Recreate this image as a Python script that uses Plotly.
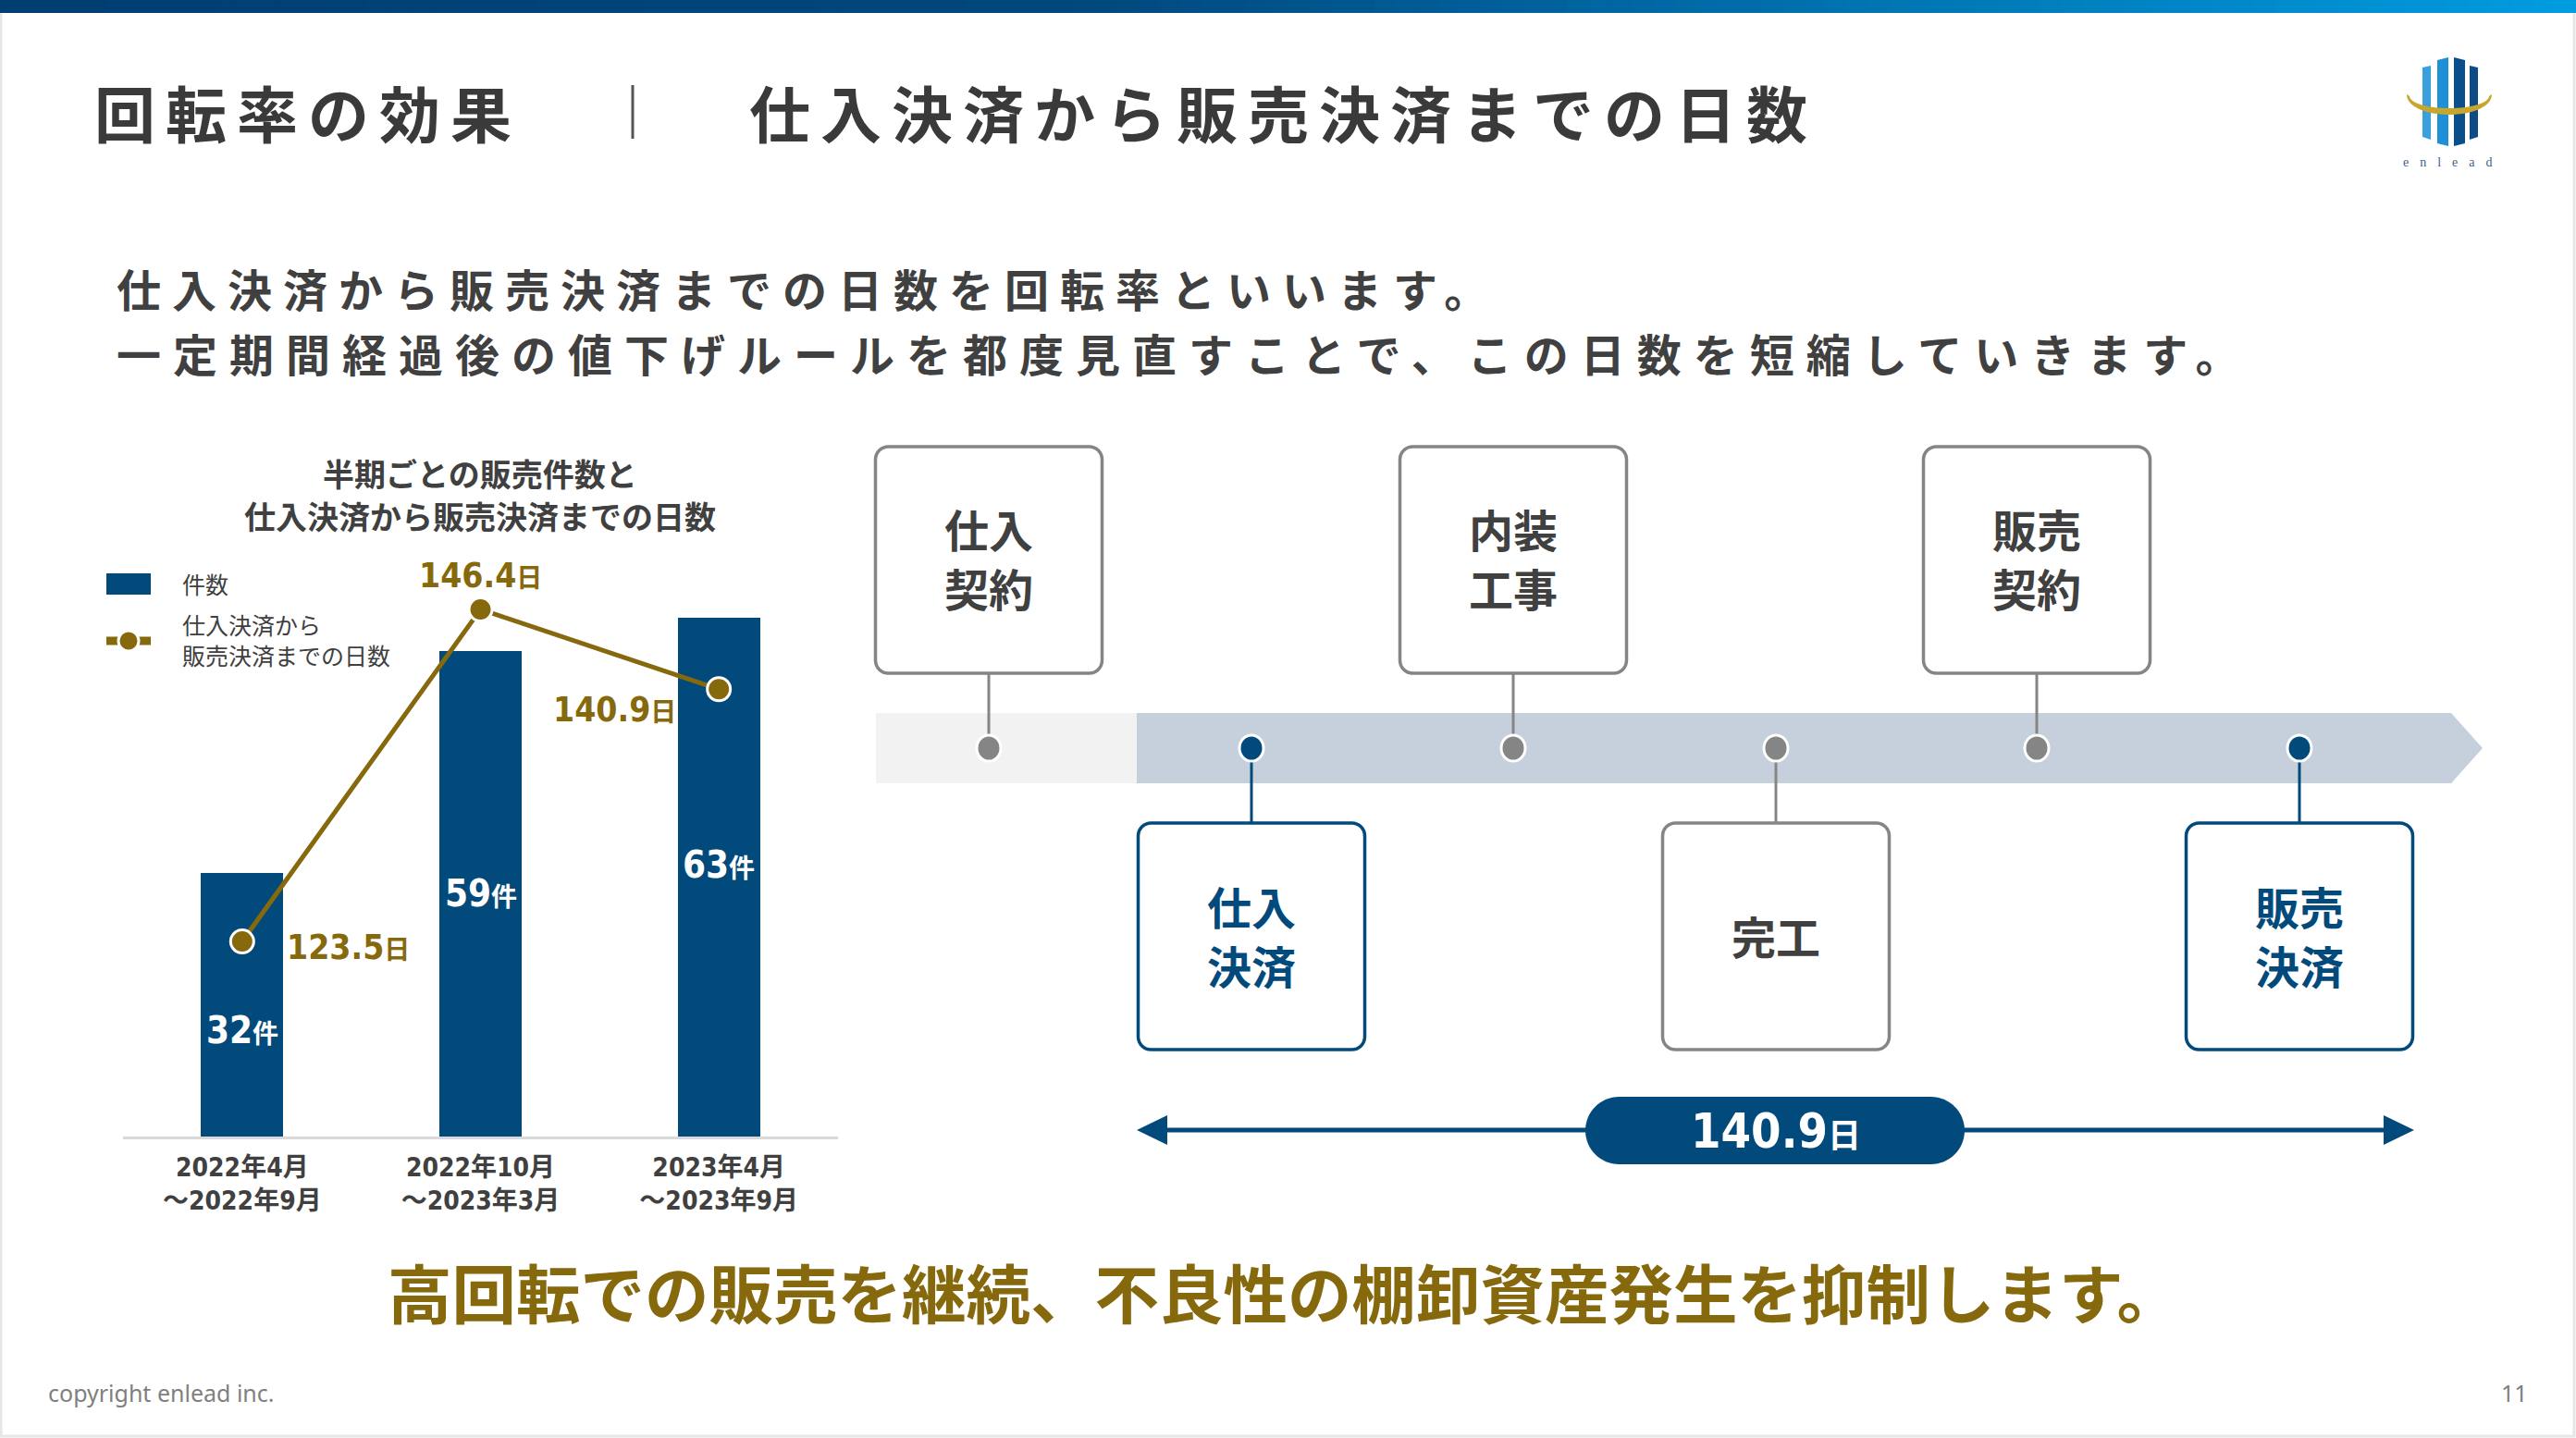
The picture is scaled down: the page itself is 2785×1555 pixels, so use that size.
import plotly.graph_objects as go

W, H = 2785, 1555

# ---------------- data ----------------
periods = ["2022年4月<br>～2022年9月", "2022年10月<br>～2023年3月", "2023年4月<br>～2023年9月"]
sales_counts = [32, 59, 63]
days_to_settle = [123.5, 146.4, 140.9]
count_unit = "件"
day_unit = "日"
legend_labels = ["件数", "仕入決済から<br>販売決済までの日数"]
chart_title = ["半期ごとの販売件数と", "仕入決済から販売決済までの日数"]
steps_top = [["仕入", "契約"], ["内装", "工事"], ["販売", "契約"]]
steps_bottom = [["仕入", "決済"], ["完工"], ["販売", "決済"]]
steps_bottom_highlight = [True, False, True]
cycle_days = 140.9
header_left = "回転率の効果"
header_right = "仕入決済から販売決済までの日数"
lead_lines = ["仕入決済から販売決済までの日数を回転率といいます。",
              "一定期間経過後の値下げルールを都度見直すことで、この日数を短縮していきます。"]
message = "高回転での販売を継続、不良性の棚卸資産発生を抑制します。"
footer_left = "copyright enlead inc."
page_no = "11"

# ---------------- styles ----------------
NAVY = "#034a7c"
GOLD = "#85690c"
TEXT = "#404040"
GRAY = "#858585"
JP = "Noto Sans CJK JP"
NUM = "Liberation Sans Narrow, DejaVu Sans Condensed, Noto Sans CJK JP"

fig = go.Figure()

# bars (count)
fig.add_bar(
    x=periods, y=sales_counts, width=0.345, marker_color=NAVY, marker_line_width=0,
    showlegend=False, hoverinfo="skip", xaxis="x", yaxis="y")

# line (days)
fig.add_scatter(
    x=periods, y=days_to_settle, mode="lines+markers", xaxis="x", yaxis="y2",
    line=dict(color=GOLD, width=5),
    marker=dict(size=25, color=GOLD, line=dict(color="white", width=3)),
    showlegend=False, hoverinfo="skip", cliponaxis=False)

# page canvas (pixel coordinates)
fig.add_scatter(x=[], y=[], xaxis="x3", yaxis="y3", showlegend=False, hoverinfo="skip")

shapes = []
annos = []


def S(**kw):
    d = dict(xref="x3", yref="y3", layer="above")
    d.update(kw)
    shapes.append(d)


def A(x, y, text, size, color=TEXT, family=JP, xanchor="center", yanchor="middle", **kw):
    d = dict(xref="x3", yref="y3", x=x, y=y, text=text, showarrow=False,
             font=dict(family=family, size=size, color=color),
             xanchor=xanchor, yanchor=yanchor)
    d.update(kw)
    annos.append(d)


def rrect(x0, y0, x1, y1, r):
    k = 0.5523 * r
    return (f"M{x0+r},{y0} L{x1-r},{y0} C{x1-r+k},{y0} {x1},{y0+r-k} {x1},{y0+r} "
            f"L{x1},{y1-r} C{x1},{y1-r+k} {x1-r+k},{y1} {x1-r},{y1} "
            f"L{x0+r},{y1} C{x0+r-k},{y1} {x0},{y1-r+k} {x0},{y1-r} "
            f"L{x0},{y0+r} C{x0},{y0+r-k} {x0+r-k},{y0} {x0+r},{y0} Z")


def spaced(t, ls):
    return f"<span style='letter-spacing:{ls}px'>{t}</span>"


# page border
S(type="rect", x0=1, y0=1, x1=W - 2, y1=H - 2, line=dict(color="#e6e6e6", width=3), layer="below")

# top gradient bar
N = 120
c0 = (0, 62, 114)
c1 = (0, 72, 126)
c2 = (0, 156, 224)
for i in range(N):
    t = i / (N - 1)
    if t < 0.42:
        u = t / 0.42
        c = [int(c0[j] + (c1[j] - c0[j]) * u) for j in range(3)]
    else:
        u = (t - 0.42) / 0.58
        c = [int(c1[j] + (c2[j] - c1[j]) * u) for j in range(3)]
    S(type="rect", x0=W * i / N, x1=W * (i + 1) / N + 1.5, y0=0, y1=14,
      fillcolor=f"rgb({c[0]},{c[1]},{c[2]})", line=dict(width=0))

# header
A(100, 120, "<b>" + spaced(header_left, 11) + "</b>", 66, color="#3a3a3a", xanchor="left")
S(type="line", x0=684, x1=684, y0=92, y1=150, line=dict(color="#555555", width=3))
A(808, 120, "<b>" + spaced(header_right, 11) + "</b>", 66, color="#3a3a3a", xanchor="left")

# logo
logo_bars = [
    ((2619, 73), (2628, 71), (2628, 151), (2619, 148), "#3aa0dc"),
    ((2635, 65), (2647, 62), (2647, 158), (2635, 155), "#1f90d6"),
    ((2653, 62), (2665, 65), (2665, 155), (2653, 158), "#0b4e8c"),
    ((2670, 71), (2679, 73), (2679, 148), (2670, 151), "#0e4c88"),
]
for p0, p1, p2, p3, col in logo_bars:
    S(type="path", path=f"M{p0[0]},{p0[1]} L{p1[0]},{p1[1]} L{p2[0]},{p2[1]} L{p3[0]},{p3[1]} Z",
      fillcolor=col, line=dict(width=0))
cx, cy, rx, ry, rx2, ry2, k = 2648, 104, 46, 20, 43, 13, 0.5523
S(type="path",
  path=(f"M{cx-rx},{cy-2} C{cx-rx},{cy+k*ry} {cx-k*rx},{cy+ry} {cx},{cy+ry} "
        f"C{cx+k*rx},{cy+ry} {cx+rx},{cy+k*ry} {cx+rx},{cy-2} "
        f"L{cx+rx2},{cy} C{cx+rx2},{cy+k*ry2} {cx+k*rx2},{cy+ry2} {cx},{cy+ry2} "
        f"C{cx-k*rx2},{cy+ry2} {cx-rx2},{cy+k*ry2} {cx-rx2},{cy} Z"),
  fillcolor="#c6a62c", line=dict(width=0))
A(2652, 175, spaced("enlead", 12), 14, color="#3d5f8a", family="Liberation Serif, DejaVu Serif")

# lead text
A(124, 311, "<b>" + spaced(lead_lines[0], 12) + "</b>", 48, xanchor="left")
A(124, 381, "<b>" + spaced(lead_lines[1], 13) + "</b>", 48, xanchor="left")

# chart title
A(519, 511, "<b>" + chart_title[0] + "</b>", 34)
A(519, 557, "<b>" + chart_title[1] + "</b>", 34)

# legend
S(type="rect", x0=115, x1=163, y0=620, y1=643, fillcolor=NAVY, line=dict(width=0))
A(195, 631, legend_labels[0], 25, xanchor="left")
S(type="line", x0=115, x1=163, y0=693, y1=693, line=dict(color=GOLD, width=9))
S(type="circle", x0=128, x1=150, y0=682, y1=704, fillcolor=GOLD, line=dict(color="white", width=3))
A(195, 691, legend_labels[1], 25, xanchor="left", align="left")

# bar value labels
bar_lab_shift = [-27, 0, 14]
for i, v in enumerate(sales_counts):
    annos.append(dict(xref="x", yref="y", x=periods[i], y=v / 2, showarrow=False,
                      text=f"<b>{v}<span style='font-size:28px'>{count_unit}</span></b>",
                      font=dict(family=NUM, size=40, color="white"),
                      xanchor="center", yanchor="middle", yshift=bar_lab_shift[i]))

# data labels for line
lab_pos = [dict(xanchor="left", xshift=46, yshift=-6),
           dict(xanchor="center", xshift=0, yshift=36),
           dict(xanchor="right", xshift=-44, yshift=-22)]
for i, v in enumerate(days_to_settle):
    annos.append(dict(xref="x", yref="y2", x=periods[i], y=v, showarrow=False,
                      text=f"<b>{v}<span style='font-size:28px'>{day_unit}</span></b>",
                      font=dict(family=NUM, size=37, color=GOLD),
                      yanchor="middle", **lab_pos[i]))

# timeline band
S(type="rect", x0=947, x1=1229, y0=771, y1=847, fillcolor="#f2f2f2", line=dict(width=0), layer="below")
S(type="path", path="M1229,771 L2650,771 L2684,809 L2650,847 L1229,847 Z",
  fillcolor="#c5d0dc", line=dict(width=0), layer="below")

dot_x = [1069, 1353, 1636, 1920, 2202, 2486]
dot_y = 809
bw = 245
line_gap = 64


def box_text(x, yc, lines, color):
    n = len(lines)
    for j, ln in enumerate(lines):
        A(x, yc + (j - (n - 1) / 2) * line_gap, "<b>" + ln + "</b>", 48, color=color)


for i, lab in enumerate(steps_top):
    x = dot_x[2 * i]
    S(type="line", x0=x, x1=x, y0=728, y1=dot_y, line=dict(color=GRAY, width=3))
    S(type="path", path=rrect(x - bw / 2, 483, x + bw / 2, 728, 14), fillcolor="white",
      line=dict(color=GRAY, width=3.5))
    box_text(x, 603, lab, TEXT)
    S(type="circle", x0=x - 13, x1=x + 13, y0=dot_y - 14, y1=dot_y + 14, fillcolor=GRAY,
      line=dict(color="white", width=3))
for i, lab in enumerate(steps_bottom):
    x = dot_x[2 * i + 1]
    col = NAVY if steps_bottom_highlight[i] else GRAY
    tcol = NAVY if steps_bottom_highlight[i] else TEXT
    S(type="line", x0=x, x1=x, y0=dot_y, y1=890, line=dict(color=col, width=3))
    S(type="path", path=rrect(x - bw / 2, 890, x + bw / 2, 1135, 14), fillcolor="white",
      line=dict(color=col, width=3.5))
    box_text(x, 1011, lab, tcol)
    S(type="circle", x0=x - 13, x1=x + 13, y0=dot_y - 14, y1=dot_y + 14, fillcolor=col,
      line=dict(color="white", width=3))

# span arrow + pill
S(type="line", x0=1250, x1=2590, y0=1222, y1=1222, line=dict(color=NAVY, width=5))
S(type="path", path="M1229,1222 L1262,1206 L1262,1238 Z", fillcolor=NAVY, line=dict(width=0))
S(type="path", path="M2610,1222 L2577,1206 L2577,1238 Z", fillcolor=NAVY, line=dict(width=0))
S(type="path", path=rrect(1714, 1186, 2124, 1259, 36.5), fillcolor=NAVY, line=dict(width=0))
A(1920, 1223, f"<b>{cycle_days}<span style='font-size:36px'>{day_unit}</span></b>", 52,
  color="white", family=NUM)

# message
A(1388, 1395, "<b>" + message + "</b>", 69.5, color=GOLD)

# footer
A(50, 1506, footer_left, 25, color="#7f7f7f", family="Noto Sans, Roboto", xanchor="left")
A(2735, 1506, page_no, 25, color="#7f7f7f", family="Noto Sans, Roboto", xanchor="right")

y_bottom, y_top = 1229, 600
px_per_count = 8.9
px_per_day = 15.68
d_hi = days_to_settle[1] + (659 - y_top) / px_per_day
d_lo = d_hi - (y_bottom - y_top) / px_per_day

fig.update_layout(
    width=W, height=H, margin=dict(l=0, r=0, t=0, b=0),
    paper_bgcolor="white", plot_bgcolor="rgba(0,0,0,0)",
    showlegend=False, bargap=0,
    xaxis=dict(domain=[133 / W, 906 / W], range=[-0.5, 2.5], anchor="y",
               showline=True, linecolor="#d9d9d9", linewidth=3, ticks="",
               showgrid=False, zeroline=False, fixedrange=True, ticklabelstandoff=6,
               tickfont=dict(family=NUM, size=28, color=TEXT, weight="bold")),
    yaxis=dict(domain=[1 - y_bottom / H, 1 - y_top / H],
               range=[0, (y_bottom - y_top) / px_per_count], visible=False, fixedrange=True),
    yaxis2=dict(overlaying="y", anchor="x", range=[d_lo, d_hi], visible=False, fixedrange=True),
    xaxis3=dict(domain=[0, 1], range=[0, W], anchor="y3", visible=False, fixedrange=True),
    yaxis3=dict(domain=[0, 1], range=[H, 0], anchor="x3", visible=False, fixedrange=True),
    shapes=shapes, annotations=annos,
)

fig.write_html("out.html", config={"displayModeBar": False},
               post_script="document.body.style.margin='0';document.body.style.overflow='hidden';")
